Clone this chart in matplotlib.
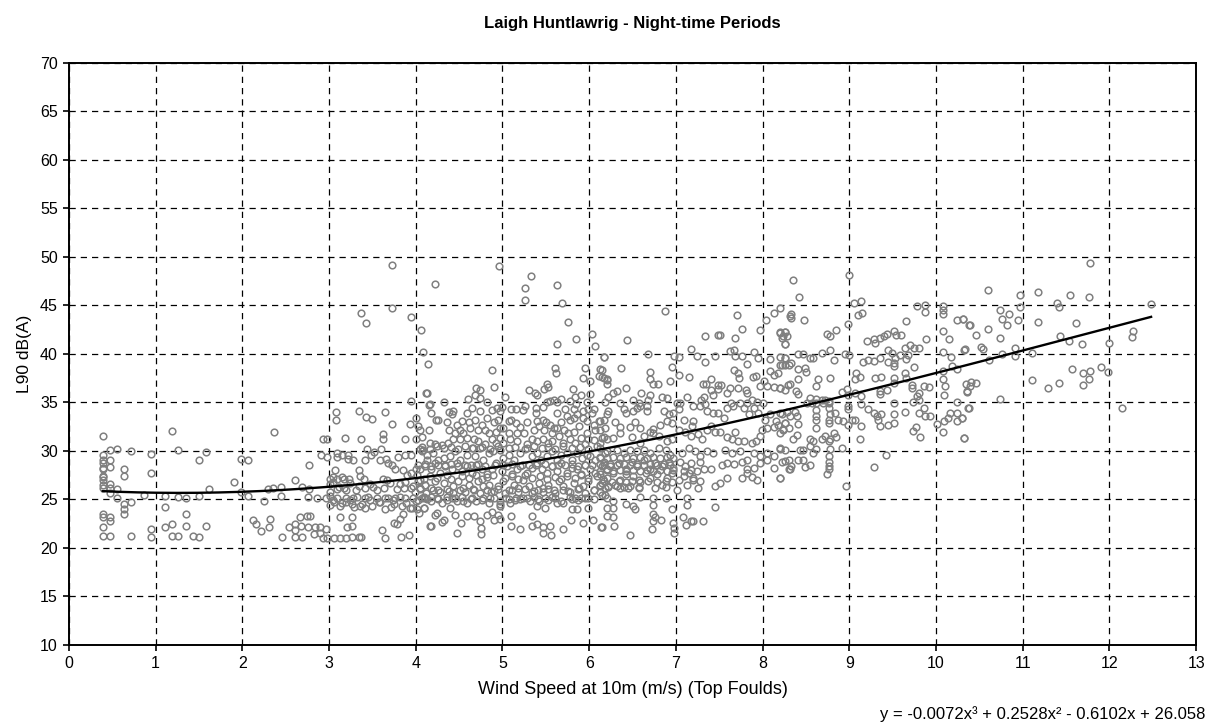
import numpy as np
import matplotlib
matplotlib.use("Agg")
import matplotlib.pyplot as plt

plt.rcParams['font.family'] = ['Liberation Sans', 'DejaVu Sans']

# Measured night-time L90 against wind speed, grouped by wind-speed band (m/s, dB(A))
band_0_2 = [
    (0.39, 31.5), (0.47, 30.1), (0.55, 30.2), (0.71, 30.0), (0.95, 29.7), (1.19, 32.1), (1.26, 30.1),
    (1.58, 29.9), (1.50, 29.1), (1.98, 29.2), (2.06, 29.1),
    (0.39, 29.6), (0.39, 29.1), (0.39, 28.8), (0.39, 28.2), (0.39, 28.1), (0.39, 27.4), (0.39, 27.3),
    (0.39, 27.0), (0.39, 26.5), (0.39, 26.2), (0.47, 29.1), (0.47, 28.3), (0.63, 28.1), (0.63, 27.4),
    (0.95, 27.7), (0.47, 26.6), (0.47, 26.2), (0.47, 25.7), (0.55, 26.1), (1.90, 26.8), (1.61, 26.1),
    (1.98, 25.8), (2.06, 25.4), (0.87, 25.5), (1.11, 25.4), (1.26, 25.3), (1.35, 25.1), (1.50, 25.4),
    (0.55, 25.1), (0.63, 24.5), (0.71, 24.7), (0.63, 24.0), (0.63, 23.5), (0.39, 23.5), (0.39, 23.2),
    (0.47, 23.2), (0.47, 22.8), (1.11, 24.2), (1.35, 23.5), (0.39, 22.2), (1.19, 22.5), (1.11, 22.2),
    (0.95, 22.0), (1.35, 22.3), (1.58, 22.3), (0.39, 21.2), (0.47, 21.2), (0.71, 21.2), (0.95, 21.1),
    (1.19, 21.2), (1.26, 21.2), (1.43, 21.2), (1.50, 21.1),
]

band_2_4 = [
    (3.73, 49.2), (3.73, 44.7), (3.37, 44.2), (3.43, 43.2), (3.95, 43.8), (4.06, 42.5), (4.08, 40.2),
    (4.14, 39.0), (4.12, 36.0), (3.95, 35.1), (4.15, 34.7), (3.08, 34.0), (3.08, 33.2), (3.35, 34.1),
    (3.43, 33.5), (3.50, 33.3), (3.65, 34.0), (3.73, 32.8), (3.93, 32.8), (4.00, 33.4), (4.02, 32.6),
    (4.05, 32.2), (2.37, 32.0), (2.93, 31.2), (2.98, 31.2), (3.18, 31.3), (3.37, 31.2), (3.62, 31.7),
    (3.62, 31.2), (3.87, 31.2), (4.00, 31.2),
    (2.91, 29.6), (2.98, 29.4), (3.09, 29.8), (3.09, 29.4), (3.15, 29.6), (3.22, 29.6), (3.22, 29.2),
    (3.28, 29.1), (3.42, 29.1), (3.44, 30.2), (3.48, 29.6), (3.52, 29.9), (3.59, 29.1), (3.66, 29.2),
    (3.68, 28.8), (3.60, 30.2), (3.72, 28.5), (3.76, 28.1), (3.79, 29.4), (3.88, 29.6), (3.95, 29.6),
    (4.05, 30.2), (4.07, 30.0), (4.13, 29.1), (2.77, 28.5), (3.07, 28.0), (3.04, 27.3), (3.01, 27.1),
    (3.09, 27.1), (3.15, 27.3), (3.17, 27.1), (3.23, 27.1), (3.35, 28.0), (3.36, 27.4), (3.40, 27.1),
    (3.62, 27.1), (3.67, 27.0), (3.85, 28.0), (3.90, 27.5), (3.95, 27.7), (4.00, 28.1), (2.61, 27.0),
    (2.45, 26.3), (2.35, 26.2), (2.29, 26.1), (2.69, 26.3), (2.77, 26.1), (3.01, 26.6), (3.01, 25.8),
    (3.09, 26.1), (3.17, 26.2), (3.20, 26.0), (3.34, 26.4), (3.42, 26.2), (3.51, 26.3), (3.63, 26.2),
    (3.78, 26.1), (3.82, 26.6), (3.86, 26.2), (3.94, 26.2), (3.97, 26.4), (4.05, 26.2), (4.11, 26.5),
    (2.45, 25.4), (2.76, 25.3), (2.86, 25.1), (2.97, 25.1), (3.01, 25.4), (3.09, 25.1), (3.20, 25.1),
    (3.28, 25.1), (3.32, 25.3), (3.42, 25.1), (3.45, 25.3), (3.55, 25.1), (3.64, 25.1), (3.68, 25.1),
    (3.76, 25.1), (3.82, 25.3), (3.88, 25.1), (3.97, 25.1), (4.09, 25.3), (2.25, 24.8), (3.01, 24.4),
    (3.06, 24.7), (3.13, 24.3), (3.20, 24.7), (3.27, 24.5), (3.29, 24.2), (3.36, 24.3), (3.42, 24.1),
    (3.49, 24.3), (3.57, 24.7), (3.65, 24.0), (3.71, 24.2), (3.75, 24.5), (3.84, 24.3), (3.93, 24.1),
    (3.96, 24.1), (4.04, 23.6), (4.01, 24.0), (4.09, 24.1), (2.12, 22.9), (2.16, 22.5), (2.32, 23.0),
    (2.22, 21.7), (2.31, 22.2), (2.67, 23.2), (2.74, 23.3), (2.78, 23.3), (2.54, 22.2), (2.61, 22.5),
    (2.61, 21.9), (2.68, 22.3), (2.76, 22.2), (2.84, 22.2), (2.90, 22.2), (2.97, 22.0), (2.83, 21.4),
    (2.90, 21.5), (2.93, 21.0), (2.46, 21.1), (2.61, 21.1), (2.69, 21.1), (2.98, 21.0), (3.06, 21.0),
    (3.13, 21.0), (3.20, 21.0), (3.26, 21.1), (3.35, 21.1), (3.37, 21.1), (3.13, 23.2), (3.27, 23.2),
    (3.21, 22.2), (3.27, 22.3), (3.61, 21.9), (3.64, 21.0), (3.75, 22.6), (3.78, 22.5), (3.82, 23.0),
    (3.85, 23.5), (3.83, 21.1), (3.92, 21.3), (4.16, 22.3),
    (3.05, 26.8), (3.12, 26.3), (3.24, 26.7), (3.31, 26.0), (3.47, 26.6), (3.55, 26.0), (3.70, 26.7),
    (3.88, 26.8), (4.02, 26.9), (3.05, 24.9), (3.15, 24.6), (3.24, 24.9), (3.38, 24.5), (3.47, 24.9),
    (3.59, 24.7), (3.74, 24.9), (3.89, 24.6), (4.00, 24.8),
]

band_4_6 = [
    (4.96, 49.1), (4.22, 47.2), (5.33, 48.0), (5.26, 46.8), (5.26, 45.6), (5.63, 47.1), (5.69, 45.2),
    (5.76, 43.3), (6.03, 42.1), (6.07, 40.8), (5.85, 41.5), (5.63, 41.0), (6.17, 39.7), (5.60, 38.5),
    (5.62, 38.0), (4.88, 38.3), (4.90, 36.6), (5.95, 38.6), (5.93, 37.5), (6.13, 38.4), (6.11, 37.7),
    (6.15, 37.6), (6.20, 37.3), (4.13, 36.0), (5.51, 36.9), (5.53, 36.6), (5.48, 36.4), (5.31, 36.3),
    (5.38, 36.0), (5.40, 35.8), (5.81, 36.4), (5.84, 35.6), (5.91, 35.8), (6.01, 37.2), (6.01, 35.9),
    (4.69, 36.5), (4.74, 36.3), (4.68, 35.8), (4.74, 35.5), (4.60, 35.4), (5.03, 35.6), (4.32, 35.0),
    # 33-35 dB(A)
    (4.16, 34.8), (4.18, 33.9), (4.23, 33.2), (4.26, 33.2), (4.38, 34.0), (4.43, 34.1), (4.59, 33.9),
    (4.65, 34.4), (4.74, 34.1), (4.82, 35.0), (4.88, 34.2), (4.94, 34.4), (4.97, 34.1), (5.00, 34.5),
    (5.10, 34.3), (5.16, 34.3), (5.24, 34.2), (5.26, 34.6), (5.39, 34.4), (5.39, 33.9), (5.47, 34.5),
    (5.51, 35.0), (5.55, 35.1), (5.59, 35.3), (5.63, 35.0), (5.63, 33.9), (5.68, 35.4), (5.72, 34.3),
    (5.78, 35.1), (5.82, 34.3), (5.85, 34.8), (5.93, 34.1), (5.97, 35.0), (5.99, 34.3), (6.03, 33.9),
    (6.05, 34.3), (6.18, 35.0),
    # 31.5-33.8 dB(A)
    (4.36, 33.0), (4.42, 33.8), (4.47, 32.7), (4.53, 33.1), (4.61, 33.0), (4.68, 33.2), (4.76, 32.7),
    (4.82, 33.4), (4.90, 33.0), (4.95, 33.2), (4.97, 32.4), (5.07, 33.1), (5.10, 33.2), (5.15, 32.9),
    (5.20, 32.5), (5.28, 33.0), (5.40, 33.1), (5.47, 33.2), (5.50, 33.0), (5.55, 32.7), (5.59, 32.4),
    (5.68, 33.0), (5.74, 33.6), (5.78, 33.2), (5.83, 33.4), (5.86, 33.8), (5.93, 33.4), (5.97, 33.1),
    (6.05, 32.7), (6.11, 33.1), (6.20, 33.8), (4.15, 32.2), (4.38, 32.2), (4.45, 31.9), (4.51, 32.2),
    (4.55, 31.9), (4.63, 32.4), (4.72, 32.2), (4.80, 32.2), (4.84, 31.9), (4.92, 32.0), (5.01, 32.4),
    (5.08, 31.9), (5.17, 31.9), (5.25, 31.9), (5.36, 32.2), (5.42, 32.6), (5.48, 32.2), (5.57, 31.8),
    (5.63, 32.4), (5.71, 32.2), (5.76, 31.9), (5.82, 32.0), (5.88, 32.6), (5.97, 31.9), (6.07, 32.2),
    (6.13, 32.2), (6.17, 31.4),
    # 30.5-31.5 dB(A)
    (4.07, 31.4), (4.16, 30.8), (4.22, 30.7), (4.30, 30.6), (4.37, 30.8), (4.43, 31.2), (4.51, 31.2),
    (4.59, 31.3), (4.67, 31.2), (4.72, 31.0), (4.80, 30.7), (4.88, 31.2), (4.92, 30.8), (4.97, 31.3),
    (5.01, 30.8), (5.09, 31.2), (5.17, 31.0), (5.28, 30.7), (5.34, 31.2), (5.40, 31.0), (5.47, 31.2),
    (5.53, 30.8), (5.57, 31.0), (5.65, 31.5), (5.70, 30.8), (5.78, 31.2), (5.84, 30.8), (5.90, 31.3),
    (5.95, 30.7), (5.99, 31.2), (6.05, 31.1), (6.13, 30.8), (6.20, 31.2),
    # 29-30.5 dB(A)
    (4.08, 30.1), (4.13, 29.6), (4.20, 29.8), (4.26, 29.1), (4.32, 29.3), (4.40, 29.5), (4.45, 30.0),
    (4.51, 29.1), (4.59, 29.6), (4.65, 30.3), (4.68, 29.5), (4.74, 30.3), (4.78, 29.1), (4.84, 29.8),
    (4.89, 30.0), (4.97, 30.1), (5.01, 29.3), (5.07, 29.6), (5.13, 29.1), (5.20, 29.8), (5.28, 30.3),
    (5.34, 29.5), (5.40, 29.8), (5.44, 29.1), (5.51, 29.5), (5.57, 30.0), (5.63, 29.1), (5.67, 29.6),
    (5.74, 29.8), (5.80, 29.1), (5.86, 29.8), (5.92, 29.3), (5.97, 29.6), (6.01, 29.5), (6.07, 29.1),
    (6.13, 29.3), (6.18, 29.8),
    (4.07, 30.4), (4.16, 30.2), (4.24, 30.5), (4.32, 30.3), (4.41, 30.4), (4.49, 30.2), (4.57, 30.5),
    (4.66, 30.3), (4.76, 30.4), (4.86, 30.2), (4.95, 30.5), (5.07, 30.3), (5.14, 30.4), (5.26, 30.2),
    (5.36, 30.5), (5.45, 30.3), (5.53, 30.4), (5.61, 30.2), (5.70, 30.5), (5.80, 30.3), (5.89, 30.4),
    (5.99, 30.2), (6.09, 30.5),
    # 27.5-29 dB(A)
    (4.05, 28.1), (4.11, 28.4), (4.17, 28.1), (4.22, 28.8), (4.28, 27.7), (4.34, 28.4), (4.42, 28.1),
    (4.47, 28.8), (4.53, 27.9), (4.59, 28.4), (4.65, 27.7), (4.70, 28.6), (4.76, 28.1), (4.82, 27.6),
    (4.88, 28.1), (4.93, 28.8), (4.99, 27.9), (5.05, 28.4), (5.11, 27.6), (5.17, 28.1), (5.22, 28.6),
    (5.28, 27.7), (5.34, 28.2), (5.40, 28.8), (5.45, 28.1), (5.51, 27.7), (5.57, 28.4), (5.63, 27.9),
    (5.68, 28.8), (5.74, 27.7), (5.80, 28.2), (5.86, 28.1), (5.90, 27.6), (5.95, 28.6), (6.01, 28.1),
    (6.07, 27.7), (6.15, 28.4), (6.20, 28.1),
    (4.03, 28.5), (4.11, 28.7), (4.18, 28.4), (4.26, 28.6), (4.34, 28.5), (4.41, 28.7), (4.49, 28.4),
    (4.57, 28.6), (4.64, 28.5), (4.72, 28.7), (4.80, 28.4), (4.91, 28.6), (5.01, 28.5), (5.11, 28.7),
    (5.20, 28.4), (5.30, 28.6), (5.39, 28.5), (5.49, 28.7), (5.57, 28.4), (5.64, 28.6), (5.72, 28.5),
    (5.80, 28.7), (5.87, 28.4), (5.95, 28.6), (6.03, 28.5), (6.12, 28.7),
    (4.01, 27.5), (4.09, 27.1), (4.16, 27.4), (4.24, 27.2), (4.36, 27.5), (4.41, 27.1), (4.53, 27.4),
    (4.61, 27.2), (4.70, 27.5), (4.76, 27.1), (4.82, 27.3), (4.89, 27.5), (5.03, 27.2), (5.11, 27.4),
    (5.18, 27.1), (5.26, 27.5), (5.34, 27.2), (5.43, 27.4), (5.51, 27.1), (5.61, 27.3), (5.68, 27.1),
    (5.74, 27.4), (5.84, 27.2), (5.91, 27.5), (5.99, 27.2), (6.09, 27.4), (6.16, 27.1),
    # 25.7-27 dB(A)
    (4.05, 27.0), (4.11, 26.5), (4.17, 26.2), (4.22, 26.9), (4.26, 26.0), (4.32, 26.7), (4.38, 25.9),
    (4.43, 26.4), (4.49, 26.9), (4.55, 26.2), (4.61, 26.5), (4.67, 26.0), (4.72, 26.9), (4.78, 26.4),
    (4.84, 26.5), (4.90, 25.9), (4.95, 26.4), (5.01, 26.9), (5.07, 26.0), (5.13, 26.5), (5.18, 26.2),
    (5.24, 27.0), (5.30, 26.4), (5.36, 25.9), (5.42, 26.7), (5.47, 26.2), (5.53, 26.5), (5.59, 26.0),
    (5.65, 26.9), (5.70, 26.4), (5.76, 25.9), (5.82, 26.7), (5.88, 26.2), (5.93, 26.4), (5.99, 26.9),
    (6.05, 26.0), (6.13, 26.5), (6.18, 26.2),
    (3.99, 25.8), (4.05, 26.1), (4.12, 25.7), (4.20, 26.0), (4.28, 25.8), (4.36, 26.1), (4.43, 25.7),
    (4.51, 26.0), (4.57, 25.8), (4.66, 26.1), (4.74, 25.7), (4.82, 26.0), (4.87, 25.8), (4.95, 26.1),
    (5.03, 25.7), (5.11, 26.0), (5.18, 25.8), (5.26, 26.1), (5.34, 25.7), (5.41, 26.0), (5.47, 25.8),
    (5.53, 26.1), (5.61, 25.7), (5.70, 26.0), (5.78, 25.8), (5.87, 26.1), (5.95, 25.7), (6.05, 26.0),
    (6.12, 25.8),
    # 24.5-25.5 dB(A)
    (4.07, 25.2), (4.13, 25.0), (4.18, 25.3), (4.24, 25.2), (4.30, 24.6), (4.36, 25.3), (4.42, 25.2),
    (4.47, 24.8), (4.53, 25.3), (4.59, 24.6), (4.65, 25.2), (4.70, 24.8), (4.78, 25.2), (4.84, 24.6),
    (4.90, 25.2), (4.97, 24.5), (5.04, 25.2), (5.09, 24.6), (5.15, 25.2), (5.20, 25.0), (5.28, 25.2),
    (5.36, 25.3), (5.42, 24.8), (5.49, 25.2), (5.57, 25.3), (5.63, 24.6), (5.70, 24.6), (5.78, 25.3),
    (5.84, 25.2), (5.90, 25.1), (5.95, 25.2), (6.05, 25.0), (6.15, 25.5),
    (4.03, 24.9), (4.11, 25.1), (4.18, 24.8), (4.26, 25.0), (4.36, 24.9), (4.45, 25.1), (4.55, 24.8),
    (4.64, 25.0), (4.76, 24.9), (4.86, 25.1), (4.97, 24.8), (5.07, 25.0), (5.14, 24.9), (5.24, 25.1),
    (5.32, 24.8), (5.41, 25.0), (5.53, 24.9), (5.61, 25.1), (5.68, 24.8), (5.80, 25.0), (5.87, 24.9),
    (5.99, 25.1),
    # below 24.5 dB(A)
    (4.09, 24.1), (4.22, 23.4), (4.24, 23.6), (4.32, 22.9), (4.30, 22.7), (4.40, 24.1), (4.45, 23.4),
    (4.52, 22.6), (4.59, 23.3), (4.67, 23.3), (4.74, 22.8), (4.75, 22.1), (4.75, 21.4), (4.82, 23.4),
    (4.88, 23.7), (4.90, 22.9), (4.95, 23.4), (4.97, 23.0), (4.47, 21.5), (4.18, 22.3), (5.10, 23.3),
    (5.10, 22.3), (5.20, 22.0), (5.34, 23.3), (5.34, 22.3), (5.40, 22.5), (5.47, 22.2), (5.47, 21.55),
    (5.55, 22.3), (5.56, 21.35), (5.70, 22.0), (5.79, 22.9), (5.80, 24.0), (5.86, 24.0), (5.93, 22.6),
    (5.99, 24.1), (6.04, 22.9), (6.14, 22.2), (5.40, 24.3), (5.49, 24.1), (4.97, 24.3),
]

band_6_8 = [
    (6.87, 44.4), (7.70, 44.0), (8.04, 43.5), (8.13, 44.2), (8.20, 44.7), (8.31, 43.9), (7.76, 42.6),
    (7.97, 42.5), (7.33, 41.8), (7.49, 42.0), (7.51, 42.0), (7.68, 41.6), (8.20, 42.3), (8.26, 42.3),
    (8.22, 41.6), (8.26, 41.0), (6.44, 41.4), (7.17, 40.5), (6.17, 39.7), (6.68, 40.0), (6.98, 39.8),
    (7.04, 39.7), (7.24, 39.8), (7.33, 39.2), (7.45, 39.8), (7.62, 40.3), (7.67, 40.4), (7.68, 39.8),
    (7.76, 39.8), (7.82, 39.0), (7.90, 40.2), (7.95, 39.6), (8.08, 39.5), (8.26, 39.6), (6.95, 38.7),
    (6.37, 38.6), (6.15, 38.3), (6.17, 37.5), (6.20, 37.4), (6.21, 36.9), (6.70, 38.1), (6.70, 37.4),
    (6.74, 36.9), (6.79, 36.9), (6.93, 37.2), (7.04, 37.8), (7.15, 37.6), (7.67, 38.3), (7.72, 38.0),
    (7.89, 37.6), (7.92, 37.7), (8.08, 38.2), (8.13, 37.8), (8.18, 38.0), (8.20, 38.9), (8.30, 38.9),
    (7.31, 36.9), (7.35, 36.9), (7.41, 37.4), (7.48, 36.8), (7.52, 36.8), (7.59, 36.0), (7.62, 36.5),
    (7.72, 36.5), (7.81, 36.3), (7.82, 36.0), (7.73, 37.5), (7.97, 36.7), (8.02, 37.2), (8.05, 36.7),
    (8.13, 36.6), (8.20, 36.5), (8.29, 36.8), (6.22, 35.6), (6.28, 36.0), (6.32, 36.2), (6.43, 36.5),
    (6.51, 35.3), (6.60, 36.0), (6.70, 35.8), (6.68, 35.3), (6.57, 34.9), (6.59, 34.6), (6.84, 35.6),
    (6.90, 35.5), (7.13, 35.6), (7.20, 34.6), (7.29, 35.3), (7.32, 35.6), (7.34, 34.8), (7.40, 36.3),
    (7.43, 35.8), (7.49, 36.4), (7.05, 34.9), (7.01, 34.9), (7.63, 34.9), (7.66, 34.6), (7.74, 34.9),
    (7.82, 34.9), (7.88, 35.2), (7.93, 35.0), (8.01, 34.9), (6.36, 34.9), (6.22, 34.1), (6.17, 33.2),
    (6.40, 34.3), (6.43, 33.9), (6.51, 34.1), (6.55, 34.4), (6.67, 34.1), (6.67, 34.6), (6.86, 34.1),
    (6.92, 33.8), (6.97, 33.9), (7.03, 34.3), (7.09, 33.2), (7.20, 33.1), (7.28, 34.6), (7.36, 34.1),
    (7.43, 33.9), (7.49, 33.9), (7.59, 34.4), (7.55, 33.4), (7.78, 34.4), (7.84, 33.8), (7.90, 34.4),
    (7.95, 33.9), (8.03, 33.2), (8.09, 33.8), (8.15, 33.1), (8.22, 33.8), (8.26, 32.9), (6.30, 33.0),
    (6.18, 32.4), (6.13, 33.1), (6.36, 32.5), (6.53, 33.0), (6.59, 32.4), (6.70, 32.0), (6.74, 32.3),
    (6.82, 32.7), (6.90, 33.1), (6.95, 32.9), (7.03, 32.2), (7.11, 32.0), (7.18, 32.6), (7.17, 31.5),
    (7.26, 31.7), (7.30, 31.2), (7.36, 32.2), (7.40, 32.6), (7.45, 32.0), (7.51, 32.0), (7.59, 31.4),
    (7.65, 31.2), (7.68, 32.0), (7.72, 31.0), (7.78, 31.0), (7.88, 30.8), (7.92, 31.0), (7.97, 31.5),
    (7.99, 32.2), (8.05, 32.4), (8.13, 32.5), (8.18, 32.7), (8.24, 32.2), (8.30, 32.4), (6.15, 31.3),
    (6.28, 31.3), (6.36, 31.9), (6.47, 32.5), (6.49, 31.4), (6.59, 30.8), (6.63, 31.5), (6.74, 31.9),
    (6.80, 31.5), (6.90, 31.0), (6.95, 31.2),
    # 29-30.3 dB(A)
    (6.13, 30.3), (6.20, 30.0), (6.32, 30.1), (6.40, 29.8), (6.47, 30.1), (6.55, 30.0), (6.63, 30.1),
    (6.70, 29.8), (6.80, 30.3), (6.88, 30.1), (6.93, 29.6), (7.07, 29.8), (7.15, 30.3), (7.22, 30.0),
    (7.28, 29.5), (7.36, 30.0), (7.43, 29.8), (7.57, 30.1), (7.65, 29.8), (7.74, 30.0), (7.82, 29.1),
    (7.90, 29.8), (7.97, 29.5), (8.05, 29.8), (8.13, 29.5), (8.20, 30.2), (8.30, 29.1),
    (6.13, 29.4), (6.20, 29.3), (6.28, 29.4), (6.36, 29.3), (6.43, 29.4), (6.51, 29.3), (6.59, 29.4),
    (6.67, 29.3), (6.74, 29.4), (6.82, 29.3), (6.90, 29.4), (6.97, 29.3),
    # 27.5-29 dB(A)
    (6.17, 28.9), (6.24, 28.4), (6.34, 28.8), (6.42, 28.1), (6.49, 28.9), (6.55, 28.4), (6.63, 29.1),
    (6.70, 28.1), (6.76, 28.8), (6.84, 28.4), (6.92, 28.9), (6.97, 28.2), (7.05, 28.9), (7.11, 28.4),
    (7.17, 28.8), (7.28, 28.9), (7.32, 28.1), (7.40, 28.1), (7.53, 28.5), (7.59, 28.8), (7.67, 28.7),
    (7.76, 28.9), (7.82, 28.1), (7.90, 28.2), (7.97, 28.8), (8.05, 29.1), (8.13, 28.2), (8.22, 28.9),
    (8.30, 28.1),
    (6.17, 28.6), (6.24, 28.7), (6.32, 28.6), (6.40, 28.7), (6.47, 28.6), (6.55, 28.7), (6.63, 28.6),
    (6.70, 28.7), (6.78, 28.6), (6.86, 28.7), (6.93, 28.6),
    (6.13, 27.9), (6.20, 28.0), (6.28, 27.9), (6.36, 28.0), (6.43, 27.9), (6.51, 28.0), (6.59, 27.9),
    (6.67, 28.0), (6.74, 27.9), (6.82, 28.0), (6.90, 27.9), (6.97, 28.0), (7.09, 27.9), (7.17, 28.0),
    (7.24, 27.9),
    # 26-27.7 dB(A)
    (6.13, 27.6), (6.20, 27.2), (6.28, 27.7), (6.36, 27.0), (6.43, 27.6), (6.51, 27.4), (6.57, 27.0),
    (6.65, 27.7), (6.70, 27.2), (6.78, 27.6), (6.84, 26.5), (6.90, 27.2), (6.95, 27.7), (7.03, 27.0),
    (7.09, 27.4), (7.15, 27.7), (7.20, 27.2), (7.28, 26.9), (7.45, 26.4), (7.51, 26.7), (7.59, 27.2),
    (7.76, 27.2), (7.82, 27.7), (7.88, 27.3), (7.93, 27.0), (8.20, 27.2), (6.15, 26.7), (6.22, 26.4),
    (6.30, 26.5), (6.18, 25.5), (6.36, 26.2), (6.45, 26.2), (6.57, 26.2), (6.59, 25.3), (6.76, 26.2),
    (6.88, 26.3), (7.01, 26.0), (7.13, 26.5), (7.20, 27.0), (7.26, 26.2),
    (6.17, 26.9), (6.26, 26.8), (6.34, 26.9), (6.42, 26.8), (6.49, 26.9), (6.59, 26.8), (6.68, 26.9),
    (6.78, 26.8), (6.88, 26.9), (6.95, 26.8), (6.13, 26.4), (6.22, 26.3), (6.32, 26.4), (6.40, 26.3),
    (6.47, 26.4), (6.57, 26.3),
    # below 25.5 dB(A)
    (6.20, 25.2), (6.28, 24.8), (6.43, 24.5), (6.51, 24.3), (6.20, 24.1), (6.28, 24.1), (6.20, 23.3),
    (6.28, 23.2), (6.15, 22.2), (6.29, 22.3), (6.47, 21.3), (6.73, 24.4), (6.74, 25.1), (6.88, 25.1),
    (6.95, 24.0), (7.13, 25.2), (7.13, 24.4), (6.74, 23.5), (6.76, 23.2), (6.74, 22.8), (6.72, 22.0),
    (6.83, 22.9), (6.97, 22.6), (6.98, 22.1), (6.98, 21.55), (7.08, 23.2), (7.12, 22.4), (7.17, 22.8),
    (7.20, 22.8), (7.31, 22.8), (7.45, 24.2), (6.53, 24.0),
]

band_8_10 = [
    (8.35, 47.6), (8.42, 45.9), (9.00, 48.1), (9.05, 45.3), (9.14, 45.5), (9.10, 44.0), (9.15, 44.2),
    (8.99, 43.1), (8.33, 44.1), (8.33, 43.7), (8.48, 43.5), (9.78, 44.9), (9.87, 45.0), (9.87, 44.3),
    (10.08, 44.9), (10.08, 44.5), (10.08, 44.1), (9.65, 43.4), (10.24, 43.5), (10.31, 43.6), (10.38, 43.0),
    (8.74, 42.1), (8.78, 41.8), (8.85, 42.5), (8.20, 42.2), (8.26, 42.3), (8.28, 41.8), (8.24, 41.8),
    (8.26, 41.0), (9.20, 41.3), (9.28, 41.5), (9.30, 41.1), (9.35, 41.6), (9.40, 41.8), (9.44, 42.1),
    (9.51, 42.4), (9.54, 42.0), (9.60, 42.0), (9.88, 41.5), (10.08, 42.4), (10.15, 41.5), (10.32, 40.4),
    (9.45, 40.4), (9.49, 40.1), (9.53, 39.6), (9.58, 39.9), (9.64, 40.6), (9.70, 40.9), (9.74, 40.6),
    (9.80, 40.6), (9.68, 39.9), (9.65, 39.5), (9.75, 38.7), (10.08, 40.2), (10.17, 39.7), (10.18, 38.8),
    (10.24, 38.4), (8.68, 40.1), (8.78, 40.4), (8.82, 39.4), (8.95, 40.0), (9.00, 39.9), (9.16, 39.2),
    (9.21, 39.4), (9.28, 39.3), (9.35, 39.6), (9.45, 39.2), (9.51, 39.1), (9.51, 38.8), (8.20, 39.7),
    (8.26, 39.6), (8.33, 39.1), (8.41, 40.0), (8.47, 40.0), (8.55, 39.6), (8.58, 39.6), (8.22, 38.9),
    (8.26, 38.9), (8.41, 38.4), (8.49, 38.6), (8.50, 38.1), (8.41, 37.4), (8.64, 37.4), (8.62, 36.7),
    (8.78, 37.5), (8.32, 36.9), (8.39, 36.2), (8.41, 35.9), (8.26, 36.3), (8.20, 36.5), (9.08, 38.0),
    (9.12, 37.6), (9.07, 37.4), (9.30, 37.5), (9.36, 37.6), (9.51, 37.5), (9.64, 38.0), (9.65, 37.5),
    (9.72, 36.8), (9.72, 36.5), (9.78, 35.7), (9.80, 36.0), (9.86, 36.7), (9.92, 36.6), (10.08, 38.2),
    (10.08, 37.4), (10.10, 36.7), (10.09, 35.8), (10.35, 36.9), (10.36, 36.1), (9.43, 36.3), (9.35, 36.2),
    (9.35, 35.9), (9.51, 37.0), (8.91, 36.1), (8.97, 36.4), (8.99, 35.8), (9.07, 36.0), (9.14, 35.7),
    (8.55, 35.5), (8.62, 35.4), (8.72, 35.2), (8.77, 35.1),
    # 31-35.3 dB(A)
    (8.20, 33.9), (8.28, 34.0), (8.32, 33.6), (8.37, 34.0), (8.40, 33.6), (8.41, 32.8), (8.26, 32.9),
    (8.24, 32.3), (8.51, 34.9), (8.57, 34.9), (8.62, 34.9), (8.62, 34.2), (8.62, 33.6), (8.62, 33.2),
    (8.62, 32.4), (8.68, 35.3), (8.70, 34.9), (8.76, 34.9), (8.77, 34.4), (8.78, 33.8), (8.76, 33.2),
    (8.76, 32.9), (8.83, 33.9), (8.87, 33.2), (8.93, 33.1), (8.99, 34.6), (8.99, 34.3), (8.99, 32.7),
    (9.03, 33.2), (9.07, 33.2), (9.13, 34.8), (9.14, 32.6), (9.22, 34.3), (9.28, 33.9), (9.32, 33.6),
    (9.33, 33.2), (9.35, 32.6), (9.37, 33.8), (9.45, 32.7), (9.51, 33.8), (9.52, 32.9), (9.52, 34.9),
    (9.64, 34.0), (9.73, 35.0), (9.73, 32.1), (9.77, 32.5), (9.80, 35.3), (9.80, 33.9), (9.82, 31.4),
    (9.86, 34.4), (9.87, 33.6), (9.93, 33.6), (10.01, 32.8), (10.08, 32.0), (10.09, 33.1), (10.14, 33.4),
    (10.16, 33.9), (10.24, 35.0), (10.24, 33.9), (10.24, 33.1), (10.30, 33.4), (10.37, 34.4), (10.32, 31.3),
    # below 32 dB(A)
    (8.20, 31.9), (8.35, 31.2), (8.40, 31.6), (8.26, 30.1), (8.20, 30.3), (8.43, 30.1), (8.47, 30.1),
    (8.55, 31.2), (8.58, 31.0), (8.55, 30.5), (8.58, 29.8), (8.62, 30.2), (8.68, 31.2), (8.72, 31.5),
    (8.76, 31.0), (8.78, 31.2), (8.78, 30.2), (8.82, 31.8), (8.85, 31.4), (8.92, 30.3), (9.12, 31.2),
    (8.77, 29.5), (8.77, 28.9), (8.77, 28.4), (8.76, 28.1), (8.74, 27.6), (8.26, 29.0), (8.32, 28.1),
    (8.33, 28.4), (8.41, 29.1), (8.47, 29.1), (8.49, 28.3), (8.55, 28.6), (8.96, 26.4), (9.29, 28.3),
    (9.42, 29.6), (8.20, 27.2),
]

band_10_13 = [
    (11.77, 49.4), (10.60, 46.6), (10.97, 46.1), (10.97, 44.8), (11.18, 46.4), (11.55, 46.1), (11.76, 45.9),
    (11.40, 45.3), (11.42, 44.8), (12.48, 45.1), (10.31, 43.6), (10.39, 43.0), (10.74, 44.5), (10.84, 44.1),
    (10.76, 43.6), (10.82, 43.0), (10.94, 43.5), (11.18, 43.3), (11.61, 43.2), (10.46, 42.0), (10.60, 42.6),
    (10.74, 41.6), (10.52, 40.7), (10.54, 40.5), (10.33, 40.5), (10.61, 39.4), (10.76, 40.0), (10.91, 40.6),
    (10.91, 39.8), (11.11, 40.1), (11.43, 41.8), (11.53, 41.3), (11.68, 41.0), (12.00, 41.1), (12.27, 42.4),
    (12.26, 41.7), (10.40, 37.1), (10.39, 36.7), (10.36, 36.2), (10.46, 37.0), (10.74, 35.4), (10.38, 34.4),
    (10.30, 33.4), (10.32, 31.3), (11.11, 37.3), (11.29, 36.5), (11.42, 37.0), (11.57, 38.4), (11.70, 38.0),
    (11.70, 36.8), (11.76, 37.4), (11.78, 38.2), (11.90, 38.7), (11.98, 38.1), (12.14, 34.4),
]

# Cubic trend line coefficients (highest power first)
trend_coeffs = [-0.0072, 0.2528, -0.6102, 26.058]
trend_range = (0.39, 12.48)

x_ticks = list(range(0, 14))
y_ticks = list(range(10, 75, 5))

points = np.array(band_0_2 + band_2_4 + band_4_6 + band_6_8 + band_8_10 + band_10_13)
wind_speed, l90 = points[:, 0], points[:, 1]

fig = plt.figure(figsize=(12.16, 7.26), dpi=100)
ax = fig.add_axes([0.0567, 0.1116, 0.927, 0.8018])

ax.plot(wind_speed, l90, linestyle='none', marker='o', markersize=4.8,
        markerfacecolor='none', markeredgecolor='#808080', markeredgewidth=1.1, zorder=3)

xs = np.linspace(trend_range[0], trend_range[1], 300)
ax.plot(xs, np.polyval(trend_coeffs, xs), color='black', linewidth=1.7, zorder=4)

ax.set_xlim(0, 13)
ax.set_ylim(10, 70)
ax.set_xticks(x_ticks)
ax.set_yticks(y_ticks)
ax.grid(True, color='black', linestyle=(0, (5, 4)), linewidth=0.9)
ax.set_axisbelow(True)
for s in ax.spines.values():
    s.set_linewidth(1.4)
ax.tick_params(direction='out', length=4, width=1.2, labelsize=11.5, pad=4)

ax.set_title('Laigh Huntlawrig - Night-time Periods', fontsize=12, fontweight='bold', pad=25)
ax.set_xlabel('Wind Speed at 10m (m/s) (Top Foulds)', fontsize=13, labelpad=7)
ax.set_ylabel('L90 dB(A)', fontsize=12.5, labelpad=6)

eq = 'y = -0.0072x³ + 0.2528x² - 0.6102x + 26.058'
fig.text(0.991, 0.006, eq, ha='right', va='bottom', fontsize=12)

fig.savefig('out.png', dpi=100)
